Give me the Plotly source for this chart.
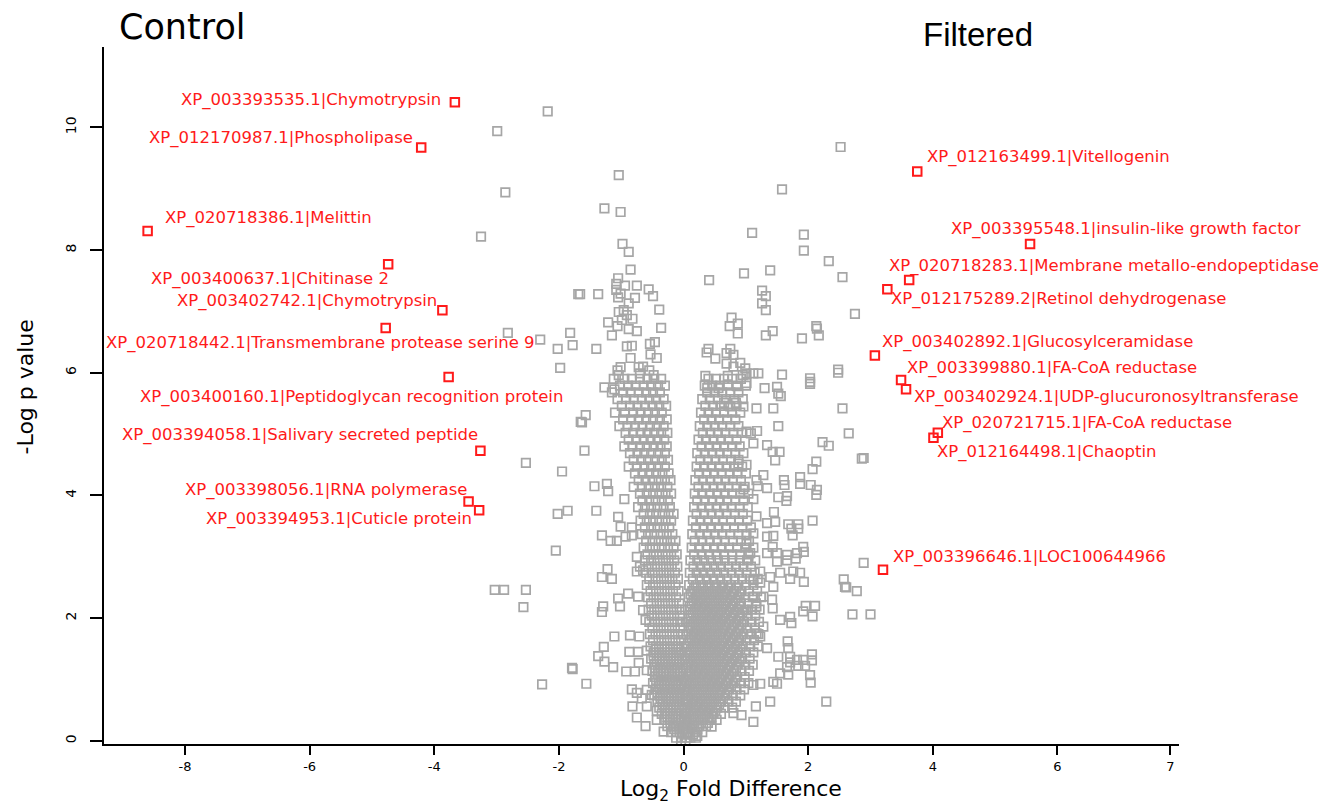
import plotly.graph_objects as go

# Highlighted proteins: log2 fold difference, -log p value, label, label offset (px) and anchor
red_names = [
    "XP_003393535.1|Chymotrypsin", "XP_012170987.1|Phospholipase", "XP_020718386.1|Melittin",
    "XP_003400637.1|Chitinase 2", "XP_003402742.1|Chymotrypsin",
    "XP_020718442.1|Transmembrane protease serine 9", "XP_003400160.1|Peptidoglycan recognition protein",
    "XP_003394058.1|Salivary secreted peptide", "XP_003398056.1|RNA polymerase",
    "XP_003394953.1|Cuticle protein", "XP_012163499.1|Vitellogenin",
    "XP_003395548.1|insulin-like growth factor", "XP_020718283.1|Membrane metallo-endopeptidase",
    "XP_012175289.2|Retinol dehydrogenase", "XP_003402892.1|Glucosylceramidase",
    "XP_003399880.1|FA-CoA reductase", "XP_003402924.1|UDP-glucuronosyltransferase",
    "XP_020721715.1|FA-CoA reductase", "XP_012164498.1|Chaoptin", "XP_003396646.1|LOC100644966",
]
red_x = [-3.67, -4.21, -8.60, -4.74, -3.87, -4.78, -3.77, -3.26, -3.45, -3.28,
         3.75, 5.56, 3.62, 3.27, 3.07, 3.49, 3.57, 4.08, 4.01, 3.20]
red_y = [10.41, 9.67, 8.31, 7.77, 7.02, 6.73, 5.93, 4.73, 3.90, 3.76,
         9.28, 8.10, 7.51, 7.36, 6.28, 5.88, 5.73, 5.02, 4.94, 2.79]
label_anchor = ["right", "right", "left", "right", "right", "right", "right", "right", "right", "right",
                "left", "left", "left", "left", "left", "left", "left", "left", "left", "left"]
label_dx = [-12, -6, 15, 3, -3, 151, 116, 0, 0, -5, 8, -81, -22, 2, 5, 4, 6, 2, 2, 8]
label_dy = [2, 10, 13, -15, 9, -15, -20, 16, 12, -9, 15, 15, 14, -10, 14, 12, -8, 10, -14, 13]

# Scattered (less dense) proteins
gray_sparse = [
    (-2.18, 10.26), (-2.99, 9.94), (-2.86, 8.94), (-3.25, 8.22), (-2.82, 6.65), (-2.30, 6.54),
    (-1.82, 6.65), (-2.02, 6.39), (-1.78, 6.45), (-1.98, 6.08), (-2.53, 4.53), (-1.95, 4.39),
    (-2.02, 3.70), (-1.86, 3.75), (-2.05, 3.10), (-3.03, 2.46), (-2.88, 2.46), (-2.53, 2.46),
    (-2.57, 2.18), (-1.78, 1.17), (-2.27, 0.92), (-1.69, 7.28), (-1.65, 5.20),
    (2.52, 9.68), (-1.04, 9.22), (1.58, 8.99), (-1.27, 8.68), (-1.01, 8.62), (1.10, 8.28),
    (1.93, 8.25), (1.93, 7.99), (-0.98, 8.10), (-0.88, 7.97), (-0.85, 7.68), (2.33, 7.82),
    (0.97, 7.62), (1.39, 7.67), (2.55, 7.56), (0.41, 7.51), (-1.05, 7.54), (-1.08, 7.45),
    (-0.94, 7.42), (-0.75, 7.42), (-0.56, 7.36), (-0.49, 7.25), (-1.08, 7.35), (-1.05, 7.23),
    (-1.01, 7.29), (-0.78, 7.22), (-1.66, 7.28), (-1.37, 7.28), (-0.88, 7.13), (-0.39, 7.03),
    (-1.04, 6.99), (-0.96, 7.02), (-0.91, 6.94), (-0.82, 6.88), (-0.99, 6.86), (-1.21, 6.82),
    (-1.06, 6.76), (-0.88, 6.71), (-0.75, 6.68), (-1.15, 6.61), (-0.36, 6.73), (1.26, 7.34),
    (1.32, 7.25), (1.26, 7.13), (1.32, 7.02), (2.75, 6.96), (0.77, 6.90), (0.87, 6.80),
    (0.74, 6.76), (0.87, 6.64), (1.43, 6.68), (1.32, 6.61), (2.13, 6.76), (2.17, 6.61),
    (1.90, 6.56), (-0.91, 6.43), (-0.83, 6.44), (-0.85, 6.24), (-0.54, 6.47), (-0.46, 6.50),
    (-0.53, 6.30), (-0.43, 6.24), (-1.06, 6.04), (-1.01, 6.09), (-0.72, 6.09), (-0.65, 6.10),
    (-0.55, 6.04), (-0.70, 5.99), (-0.48, 5.96), (-1.04, 5.96), (-1.40, 6.39), (0.40, 6.39),
    (0.37, 6.33), (0.51, 6.23), (0.75, 6.39), (0.69, 6.32), (0.80, 6.29), (0.69, 6.15),
    (0.91, 6.16), (0.80, 6.10), (0.99, 6.07), (1.01, 5.99), (1.12, 5.99), (1.20, 5.99),
    (0.35, 5.95), (0.71, 5.95), (0.95, 5.96), (1.58, 5.97), (2.03, 5.91), (2.48, 6.05),
    (2.14, 6.72), (2.48, 6.00), (2.03, 5.82), (1.56, 5.62), (2.55, 5.42), (2.65, 5.01),
    (2.23, 4.87), (2.33, 4.81), (2.86, 4.60), (2.89, 4.61), (2.13, 4.55), (2.07, 4.43),
    (1.87, 4.30), (1.87, 4.19), (2.04, 4.17), (1.62, 4.17), (1.65, 3.91), (2.13, 4.01),
    (2.07, 3.59), (1.73, 3.46), (1.84, 3.46), (1.75, 3.35), (1.93, 3.08), (1.80, 2.97),
    (1.66, 3.03), (2.89, 2.90), (2.57, 2.63), (2.78, 2.44), (2.71, 2.06), (3.00, 2.06),
    (1.96, 2.20), (2.11, 2.20), (1.92, 2.11), (2.07, 2.03), (1.73, 1.92), (1.68, 1.51),
    (1.71, 1.28), (1.84, 1.22), (1.95, 1.22), (2.06, 1.31), (1.68, 1.08), (2.04, 0.95),
    (2.29, 0.64), (2.59, 2.51), (2.61, 2.50),
    (-1.27, 5.76), (-1.11, 5.73), (-1.57, 5.31), (-1.63, 5.19), (-1.59, 4.73), (-1.43, 4.15),
    (-1.23, 4.19), (-1.21, 4.07), (-0.95, 3.94), (-1.40, 3.75), (-1.05, 3.65), (-1.01, 3.49),
    (-0.83, 3.48), (-1.31, 3.35), (-1.17, 3.26), (-1.07, 3.26), (-0.93, 3.33), (-0.83, 3.35),
    (-0.75, 3.00), (-0.70, 2.84), (-0.65, 2.78), (-0.75, 2.76), (-1.22, 2.80), (-1.31, 2.67),
    (-1.15, 2.64), (-0.89, 2.40), (-1.05, 2.32), (-1.02, 2.19), (-0.73, 2.35), (-1.29, 2.19),
    (-1.31, 2.10), (-0.65, 2.13), (-0.61, 1.97), (-1.11, 1.70), (-0.86, 1.72), (-0.71, 1.70),
    (-1.28, 1.53), (-1.37, 1.38), (-1.27, 1.29), (-0.87, 1.45), (-0.73, 1.45), (-0.59, 1.47),
    (-1.13, 1.20), (-0.92, 1.13), (-0.78, 1.13), (-0.59, 1.15), (-0.72, 1.27), (-1.79, 1.19),
    (-1.56, 0.93), (-0.83, 0.84), (-0.75, 0.78), (-0.59, 0.83), (-0.51, 0.75), (-0.67, 0.69),
    (-0.82, 0.56), (-0.59, 0.56), (-0.43, 0.49), (-0.75, 0.38), (-0.61, 0.24), (-0.43, 0.34),
    (-0.32, 0.15), (-0.16, 0.23),
    (0.38, 5.75), (0.56, 5.75), (0.86, 5.78), (1.01, 5.83), (1.30, 5.75), (1.50, 5.77),
    (1.52, 5.66), (2.03, 5.85), (0.65, 5.51), (0.75, 5.45), (0.84, 5.51), (0.96, 5.45),
    (1.17, 5.42), (1.44, 5.42), (1.52, 5.13), (1.18, 5.05), (1.08, 5.01), (1.01, 5.04),
    (1.12, 4.85), (1.34, 4.82), (1.43, 4.71), (1.54, 4.71), (1.47, 4.57), (0.88, 4.52),
    (1.01, 4.50), (2.14, 4.09), (1.28, 4.33), (1.17, 4.25), (1.19, 4.15), (1.34, 4.12),
    (1.61, 4.25), (1.52, 3.97), (1.66, 3.99), (1.12, 3.94), (0.96, 4.10), (1.17, 3.66),
    (1.34, 3.55), (1.47, 3.57), (1.68, 3.53), (1.84, 3.53), (1.45, 3.73), (1.12, 3.38),
    (1.01, 3.21), (1.34, 3.33), (1.44, 3.34), (1.43, 3.16), (1.50, 3.06), (1.34, 3.06),
    (1.50, 2.92), (1.66, 2.94), (1.82, 3.06), (1.92, 3.16), (1.07, 3.06), (1.04, 2.95),
    (1.76, 2.76), (1.87, 2.74), (1.93, 2.59), (1.71, 2.64), (1.55, 2.74), (1.44, 2.51),
    (1.39, 2.67), (1.23, 2.76), (1.23, 2.58), (1.12, 2.62), (1.12, 2.35), (1.28, 2.35),
    (1.42, 2.30), (1.43, 2.16), (1.17, 2.19), (1.01, 2.13), (1.71, 2.02), (1.55, 1.97),
    (1.28, 1.86), (1.17, 1.75), (1.23, 1.70), (1.67, 1.62), (1.34, 1.51), (1.52, 1.37),
    (1.71, 1.37), (1.82, 1.32), (1.92, 1.32), (2.06, 1.41), (1.66, 1.20), (1.55, 1.10),
    (2.03, 1.07), (1.44, 0.96), (1.50, 0.93), (1.23, 0.93), (1.12, 0.91), (1.39, 0.64),
    (1.16, 0.56), (0.93, 0.42), (0.45, 0.23), (0.22, 0.08), (0.80, 0.45), (1.12, 0.31),
]

# Dense core of the distribution: each row is a -log p level and the fold differences found there
core_left = [
    (5.90, [-1.12, -0.95, -0.83, -0.70, -0.58, -0.47, -0.36]),
    (5.79, [-1.02, -0.89, -0.77, -0.64, -0.52, -0.41, -0.30]),
    (5.68, [-1.15, -0.97, -0.85, -0.72, -0.60, -0.49, -0.38]),
    (5.57, [-1.06, -0.92, -0.80, -0.67, -0.55, -0.44, -0.32]),
    (5.46, [-0.99, -0.86, -0.74, -0.62, -0.50, -0.39, -0.28]),
    (5.35, [-1.10, -0.94, -0.81, -0.69, -0.57, -0.46, -0.35]),
    (5.24, [-0.97, -0.84, -0.72, -0.60, -0.49, -0.38, -0.27]),
    (5.13, [-1.03, -0.90, -0.78, -0.66, -0.54, -0.43, -0.32]),
    (5.02, [-0.93, -0.81, -0.69, -0.58, -0.47, -0.36, -0.26]),
    (4.91, [-0.88, -0.76, -0.64, -0.53, -0.42, -0.31]),
    (4.80, [-0.95, -0.82, -0.70, -0.59, -0.48, -0.37, -0.27]),
    (4.69, [-0.86, -0.74, -0.63, -0.52, -0.41, -0.30]),
    (4.58, [-0.80, -0.68, -0.57, -0.46, -0.35, -0.25]),
    (4.47, [-0.88, -0.75, -0.63, -0.52, -0.41, -0.30]),
    (4.36, [-0.78, -0.66, -0.55, -0.44, -0.34, -0.24]),
    (4.25, [-0.72, -0.61, -0.50, -0.40, -0.30, -0.21]),
    (4.14, [-0.80, -0.67, -0.56, -0.46, -0.36, -0.26]),
    (4.03, [-0.70, -0.59, -0.49, -0.39, -0.29, -0.20]),
    (3.92, [-0.66, -0.55, -0.45, -0.35, -0.25]),
    (3.81, [-0.73, -0.62, -0.52, -0.42, -0.32, -0.22]),
    (3.70, [-0.64, -0.54, -0.44, -0.34, -0.24, -0.16]),
    (3.59, [-0.69, -0.59, -0.49, -0.39, -0.29, -0.20]),
    (3.48, [-0.62, -0.52, -0.42, -0.32, -0.23]),
    (3.37, [-0.67, -0.57, -0.47, -0.37, -0.27, -0.18]),
    (3.26, [-0.60, -0.50, -0.40, -0.31, -0.21, -0.13]),
    (3.15, [-0.64, -0.54, -0.45, -0.35, -0.25, -0.16]),
    (3.04, [-0.58, -0.48, -0.39, -0.29, -0.20, -0.11]),
    (2.94, [-0.62, -0.52, -0.42, -0.33, -0.24, -0.15]),
    (2.84, [-0.56, -0.46, -0.37, -0.28, -0.19, -0.10]),
    (2.74, [-0.60, -0.50, -0.41, -0.32, -0.23, -0.14]),
    (2.64, [-0.55, -0.45, -0.36, -0.27, -0.18, -0.09]),
    (2.54, [-0.59, -0.49, -0.40, -0.31, -0.22, -0.13]),
    (2.44, [-0.53, -0.44, -0.35, -0.26, -0.17, -0.08]),
    (2.34, [-0.57, -0.48, -0.39, -0.30, -0.21, -0.12]),
    (2.24, [-0.52, -0.43, -0.34, -0.25, -0.16, -0.07]),
    (2.14, [-0.56, -0.47, -0.38, -0.29, -0.20, -0.11, -0.03]),
    (2.04, [-0.51, -0.42, -0.33, -0.24, -0.15, -0.06]),
    (1.94, [-0.55, -0.46, -0.37, -0.28, -0.19, -0.10, -0.02]),
    (1.84, [-0.50, -0.41, -0.32, -0.23, -0.14, -0.05]),
    (1.74, [-0.54, -0.45, -0.36, -0.27, -0.18, -0.09, -0.01]),
    (1.64, [-0.49, -0.40, -0.31, -0.22, -0.13, -0.04]),
    (1.54, [-0.53, -0.44, -0.35, -0.26, -0.17, -0.08, 0.01]),
    (1.44, [-0.48, -0.39, -0.30, -0.21, -0.12, -0.03]),
    (1.34, [-0.52, -0.43, -0.34, -0.25, -0.16, -0.07, 0.02]),
    (1.24, [-0.47, -0.38, -0.29, -0.20, -0.11, -0.02]),
    (1.14, [-0.50, -0.41, -0.32, -0.23, -0.14, -0.05, 0.04]),
    (1.04, [-0.46, -0.37, -0.28, -0.19, -0.10, -0.01]),
    (0.94, [-0.49, -0.40, -0.31, -0.22, -0.13, -0.04, 0.05]),
    (0.84, [-0.44, -0.35, -0.26, -0.17, -0.08, 0.01]),
    (0.74, [-0.47, -0.38, -0.29, -0.20, -0.11, -0.02, 0.06]),
    (0.64, [-0.42, -0.33, -0.24, -0.15, -0.06, 0.03]),
    (0.54, [-0.39, -0.30, -0.21, -0.12, -0.03, 0.06]),
    (0.44, [-0.35, -0.26, -0.17, -0.08, 0.01]),
    (0.34, [-0.31, -0.22, -0.13, -0.04, 0.05]),
    (0.24, [-0.26, -0.17, -0.08, 0.01]),
    (0.14, [-0.20, -0.11, -0.02, 0.07]),
    (0.05, [-0.12, -0.03, 0.05]),
    (-0.02, [-0.04, 0.03]),
    (1.49, [-0.44, -0.35, -0.26, -0.17, -0.08]),
    (1.39, [-0.48, -0.39, -0.30, -0.21, -0.12, -0.03]),
    (1.29, [-0.43, -0.34, -0.25, -0.16, -0.07]),
    (1.19, [-0.46, -0.37, -0.28, -0.19, -0.10, -0.01]),
    (1.09, [-0.41, -0.32, -0.23, -0.14, -0.05]),
    (0.99, [-0.44, -0.35, -0.26, -0.17, -0.08, 0.01]),
    (0.89, [-0.39, -0.30, -0.21, -0.12, -0.03]),
    (0.79, [-0.42, -0.33, -0.24, -0.15, -0.06, 0.03]),
    (0.69, [-0.37, -0.28, -0.19, -0.10, -0.01]),
    (0.59, [-0.34, -0.25, -0.16, -0.07, 0.02]),
    (0.49, [-0.30, -0.21, -0.12, -0.03]),
    (0.39, [-0.26, -0.17, -0.08, 0.01]),
    (0.29, [-0.21, -0.12, -0.03]),
    (0.19, [-0.15, -0.06, 0.03]),
]
core_right = [
    (5.90, [0.40, 0.52, 0.65, 0.78, 0.92]),
    (5.79, [0.34, 0.46, 0.58, 0.71, 0.85, 1.00]),
    (5.68, [0.38, 0.50, 0.62, 0.75, 0.88]),
    (5.57, [0.30, 0.42, 0.55, 0.68, 0.81, 0.95]),
    (5.46, [0.35, 0.47, 0.59, 0.72, 0.85]),
    (5.35, [0.28, 0.40, 0.52, 0.65, 0.78, 0.91]),
    (5.24, [0.33, 0.45, 0.57, 0.70, 0.83]),
    (5.13, [0.26, 0.38, 0.50, 0.62, 0.75, 0.88]),
    (5.02, [0.31, 0.43, 0.55, 0.67, 0.80, 0.93]),
    (4.91, [0.24, 0.36, 0.48, 0.60, 0.72, 0.85]),
    (4.80, [0.29, 0.41, 0.53, 0.65, 0.78, 0.90]),
    (4.69, [0.22, 0.34, 0.46, 0.58, 0.70, 0.83, 0.96]),
    (4.58, [0.27, 0.39, 0.51, 0.63, 0.76, 0.88]),
    (4.47, [0.21, 0.33, 0.45, 0.57, 0.69, 0.81, 0.94]),
    (4.36, [0.25, 0.37, 0.49, 0.61, 0.74, 0.86, 1.00]),
    (4.25, [0.19, 0.31, 0.43, 0.55, 0.67, 0.79, 0.92]),
    (4.14, [0.24, 0.36, 0.48, 0.60, 0.72, 0.85, 0.98]),
    (4.03, [0.18, 0.30, 0.42, 0.54, 0.66, 0.78, 0.91, 1.04]),
    (3.92, [0.22, 0.34, 0.46, 0.58, 0.70, 0.83, 0.96]),
    (3.81, [0.17, 0.29, 0.41, 0.53, 0.65, 0.77, 0.90, 1.03]),
    (3.70, [0.21, 0.33, 0.45, 0.57, 0.69, 0.82, 0.95]),
    (3.59, [0.15, 0.27, 0.39, 0.51, 0.63, 0.76, 0.89, 1.02]),
    (3.48, [0.20, 0.32, 0.44, 0.56, 0.68, 0.81, 0.94, 1.08]),
    (3.37, [0.14, 0.26, 0.38, 0.50, 0.62, 0.75, 0.88, 1.01]),
    (3.26, [0.18, 0.30, 0.42, 0.54, 0.66, 0.79, 0.92, 1.05]),
    (3.15, [0.13, 0.25, 0.37, 0.49, 0.61, 0.73, 0.86, 0.99, 1.12]),
    (3.04, [0.17, 0.29, 0.41, 0.53, 0.65, 0.78, 0.91, 1.04]),
    (2.94, [0.11, 0.22, 0.33, 0.44, 0.55, 0.66, 0.78, 0.90, 1.02, 1.15]),
    (2.84, [0.16, 0.27, 0.38, 0.49, 0.60, 0.72, 0.84, 0.96, 1.08]),
    (2.74, [0.10, 0.21, 0.32, 0.43, 0.54, 0.65, 0.77, 0.89, 1.01, 1.14]),
    (2.64, [0.15, 0.26, 0.37, 0.48, 0.59, 0.70, 0.82, 0.94, 1.06, 1.19]),
    (2.54, [0.09, 0.20, 0.31, 0.42, 0.53, 0.64, 0.76, 0.88, 1.00, 1.12]),
    (2.44, [0.14, 0.25, 0.36, 0.47, 0.58, 0.69, 0.81, 0.93, 1.05, 1.18]),
    (2.34, [0.08, 0.19, 0.30, 0.41, 0.52, 0.63, 0.75, 0.87, 0.99, 1.11, 1.24]),
    (2.24, [0.13, 0.24, 0.35, 0.46, 0.57, 0.68, 0.80, 0.92, 1.04, 1.16]),
    (2.14, [0.07, 0.18, 0.29, 0.40, 0.51, 0.62, 0.74, 0.86, 0.98, 1.10, 1.22]),
    (2.04, [0.12, 0.23, 0.34, 0.45, 0.56, 0.67, 0.79, 0.91, 1.03, 1.15]),
    (1.94, [0.06, 0.17, 0.28, 0.39, 0.50, 0.61, 0.73, 0.85, 0.97, 1.09, 1.21]),
    (1.84, [0.11, 0.22, 0.33, 0.44, 0.55, 0.66, 0.78, 0.90, 1.02, 1.14]),
    (1.74, [0.05, 0.16, 0.27, 0.38, 0.49, 0.60, 0.72, 0.84, 0.96, 1.08, 1.20]),
    (1.64, [0.10, 0.21, 0.32, 0.43, 0.54, 0.65, 0.77, 0.89, 1.01, 1.13]),
    (1.54, [0.04, 0.15, 0.26, 0.37, 0.48, 0.59, 0.71, 0.83, 0.95, 1.07, 1.19]),
    (1.44, [0.09, 0.20, 0.31, 0.42, 0.53, 0.64, 0.76, 0.88, 1.00, 1.12]),
    (1.34, [0.03, 0.14, 0.25, 0.36, 0.47, 0.58, 0.70, 0.82, 0.94, 1.06]),
    (1.24, [0.08, 0.19, 0.30, 0.41, 0.52, 0.63, 0.75, 0.87, 0.99, 1.11]),
    (1.14, [0.13, 0.24, 0.35, 0.46, 0.57, 0.69, 0.81, 0.93, 1.05]),
    (1.04, [0.07, 0.18, 0.29, 0.40, 0.51, 0.62, 0.74, 0.86, 0.98]),
    (0.94, [0.12, 0.23, 0.34, 0.45, 0.56, 0.68, 0.80, 0.92, 1.04]),
    (0.84, [0.06, 0.17, 0.28, 0.39, 0.50, 0.61, 0.73, 0.85, 0.97]),
    (0.74, [0.11, 0.22, 0.33, 0.44, 0.55, 0.67, 0.79, 0.91]),
    (0.64, [0.05, 0.16, 0.27, 0.38, 0.49, 0.60, 0.72, 0.84]),
    (0.54, [0.10, 0.21, 0.32, 0.43, 0.54, 0.66, 0.78]),
    (0.44, [0.04, 0.15, 0.26, 0.37, 0.48, 0.60]),
    (0.34, [0.09, 0.20, 0.31, 0.42, 0.53]),
    (0.24, [0.03, 0.14, 0.25, 0.36]),
    (0.14, [0.08, 0.19, 0.30]),
    (0.05, [0.11, 0.20]),
    (2.49, [0.17, 0.28, 0.39, 0.50, 0.61, 0.72, 0.84]),
    (2.39, [0.11, 0.22, 0.33, 0.44, 0.55, 0.66, 0.78, 0.90]),
    (2.29, [0.16, 0.27, 0.38, 0.49, 0.60, 0.71, 0.83]),
    (2.19, [0.10, 0.21, 0.32, 0.43, 0.54, 0.65, 0.77, 0.89]),
    (2.09, [0.15, 0.26, 0.37, 0.48, 0.59, 0.70, 0.82, 0.94]),
    (1.99, [0.09, 0.20, 0.31, 0.42, 0.53, 0.64, 0.76, 0.88]),
    (1.89, [0.14, 0.25, 0.36, 0.47, 0.58, 0.69, 0.81, 0.93]),
    (1.79, [0.08, 0.19, 0.30, 0.41, 0.52, 0.63, 0.75, 0.87]),
    (1.69, [0.13, 0.24, 0.35, 0.46, 0.57, 0.68, 0.80, 0.92]),
    (1.59, [0.07, 0.18, 0.29, 0.40, 0.51, 0.62, 0.74, 0.86]),
    (1.49, [0.12, 0.23, 0.34, 0.45, 0.56, 0.67, 0.79, 0.91]),
    (1.39, [0.06, 0.17, 0.28, 0.39, 0.50, 0.61, 0.73, 0.85]),
    (1.29, [0.11, 0.22, 0.33, 0.44, 0.55, 0.66, 0.78, 0.90]),
    (1.19, [0.05, 0.16, 0.27, 0.38, 0.49, 0.60, 0.72, 0.84]),
    (1.09, [0.10, 0.21, 0.32, 0.43, 0.54, 0.65, 0.77]),
    (0.99, [0.04, 0.15, 0.26, 0.37, 0.48, 0.59, 0.71, 0.83]),
    (0.89, [0.09, 0.20, 0.31, 0.42, 0.53, 0.64, 0.76]),
    (0.79, [0.03, 0.14, 0.25, 0.36, 0.47, 0.58, 0.70]),
    (0.69, [0.08, 0.19, 0.30, 0.41, 0.52, 0.63]),
    (0.59, [0.02, 0.13, 0.24, 0.35, 0.46, 0.57]),
    (0.49, [0.07, 0.18, 0.29, 0.40, 0.51]),
    (0.39, [0.01, 0.12, 0.23, 0.34, 0.45]),
    (0.29, [0.06, 0.17, 0.28, 0.39]),
    (0.19, [0.00, 0.11, 0.22]),
    (0.10, [0.05, 0.15]),
]

x_ticks = [-8, -6, -4, -2, 0, 2, 4, 6, 7.81]
x_tick_text = ["-8", "-6", "-4", "-2", "0", "2", "4", "6", "7"]
y_ticks = [0, 2, 4, 6, 8, 10]

gray_x = [p[0] for p in gray_sparse]
gray_y = [p[1] for p in gray_sparse]
for level, xs in core_left + core_right:
    gray_x.extend(xs)
    gray_y.extend([level] * len(xs))

GRAY = "#a6a6a6"
RED = "#ff1a1a"
FONT = "DejaVu Sans"

fig = go.Figure()
fig.add_trace(go.Scatter(
    x=gray_x, y=gray_y, mode="markers", hoverinfo="skip",
    marker=dict(symbol="square-open", size=8.5, color=GRAY, line=dict(width=1.7, color=GRAY)),
))
fig.add_trace(go.Scatter(
    x=red_x, y=red_y, mode="markers", text=red_names, hoverinfo="text",
    marker=dict(symbol="square-open", size=8.5, color=RED, line=dict(width=2, color=RED)),
))

annotations = []
for name, x, y, anc, dx, dy in zip(red_names, red_x, red_y, label_anchor, label_dx, label_dy):
    annotations.append(dict(
        x=x, y=y, xref="x", yref="y", text=name, showarrow=False,
        xanchor=anc, yanchor="middle", xshift=dx, yshift=dy,
        font=dict(family=FONT, size=16.5, color=RED),
    ))

annotations += [
    dict(x=0.012, y=1.028, xref="paper", yref="paper", text="Control", showarrow=False,
         xanchor="left", yanchor="middle", font=dict(family=FONT, size=35, color="black")),
    dict(x=0.760, y=1.018, xref="paper", yref="paper", text="Filtered", showarrow=False,
         xanchor="left", yanchor="middle", font=dict(family="Liberation Sans", size=33, color="black")),
    dict(x=0.583, y=-0.067, xref="paper", yref="paper", text="Log<sub>2</sub> Fold Difference",
         showarrow=False, xanchor="center", yanchor="middle",
         font=dict(family=FONT, size=22, color="black")),
    dict(x=-0.0735, y=0.513, xref="paper", yref="paper", text="-Log p value", showarrow=False,
         textangle=-90, xanchor="center", yanchor="middle",
         font=dict(family=FONT, size=22, color="black")),
]

fig.update_layout(
    width=1327, height=807,
    margin=dict(l=104, r=148, t=47, b=63),
    plot_bgcolor="white", paper_bgcolor="white",
    showlegend=False,
    annotations=annotations,
    xaxis=dict(
        range=[-9.30, 7.95], tickvals=x_ticks, ticktext=x_tick_text,
        showgrid=False, zeroline=False, showline=True, linecolor="black", linewidth=2,
        ticks="outside", ticklen=9, tickwidth=2, tickcolor="black",
        tickfont=dict(family=FONT, size=13, color="black"),
    ),
    yaxis=dict(
        range=[-0.052, 11.31], tickvals=y_ticks,
        showgrid=False, zeroline=False, showline=True, linecolor="black", linewidth=2,
        ticks="outside", ticklen=12, tickwidth=2, tickcolor="black", tickangle=-90,
        ticklabelstandoff=8,
        tickfont=dict(family=FONT, size=14, color="black"),
    ),
)

fig.write_html("out.html")
